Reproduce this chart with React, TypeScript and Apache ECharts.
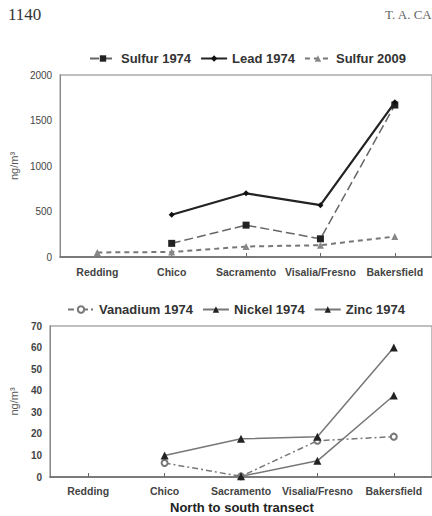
import React, { useEffect, useRef } from "react";
import * as echarts from "echarts";

const categories = ["Redding", "Chico", "Sacramento", "Visalia/Fresno", "Bakersfield"];
const sulfur1974 = [null, 150, 350, 200, 1670];
const lead1974 = [null, 465, 700, 570, 1700];
const sulfur2009 = [50, 55, 115, 130, 225];
const vanadium1974 = [null, 6.5, 0.3, 16.8, 18.7];
const nickel1974 = [null, null, 0.3, 7.5, 37.8];
const zinc1974 = [null, 10, 17.7, 18.7, 60];
const topTicks = { min: 0, max: 2000, interval: 500 };
const bottomTicks = { min: 0, max: 70, interval: 10 };

const FONT = "'Liberation Sans', Arial, sans-serif";

export default function App() {
  const ref = useRef<HTMLDivElement>(null);
  useEffect(() => {
    if (!ref.current) return;
    const chart = echarts.init(ref.current, null, { renderer: "svg" });
    const xAxisCommon = (gridIndex: number, margin: number) => ({
      type: "category" as const,
      gridIndex,
      data: categories,
      boundaryGap: true,
      axisLine: { show: true, lineStyle: { color: "#666", width: 1.5 } },
      axisTick: { show: true, inside: true, alignWithLabel: true, length: 4, lineStyle: { color: "#666" } },
      axisLabel: { fontFamily: FONT, fontSize: 10.5, fontWeight: "bold", color: "#444", margin, interval: 0 },
      splitLine: { show: false },
    });
    const yAxisCommon = (gridIndex: number, ticks: any, nameGap: number, bold: boolean) => ({
      type: "value" as const,
      gridIndex,
      min: ticks.min,
      max: ticks.max,
      interval: ticks.interval,
      name: "ng/m\u00B3",
      nameLocation: "middle" as const,
      nameGap,
      nameTextStyle: { fontFamily: FONT, fontSize: 11, color: "#555" },
      axisLine: { show: true, lineStyle: { color: "#888", width: 1 } },
      axisTick: { show: false },
      axisLabel: {
        fontFamily: FONT,
        fontSize: 10,
        color: "#444",
        fontWeight: bold ? "bold" : "normal",
        margin: 8,
        formatter: (v: number) => String(v),
      },
      splitLine: { show: false },
    });
    const legendText = { fontFamily: FONT, fontSize: 13, fontWeight: "bold", color: "#333" };
    chart.setOption({
      animation: false,
      backgroundColor: "#fff",
      graphic: [
        { type: "text", left: 8, top: 6, style: { text: "1140", font: "17px 'Liberation Serif', serif", fill: "#333" } },
        { type: "text", left: 385, top: 8, style: { text: "T. A. CA", font: "13px 'Liberation Serif', serif", fill: "#666" } },
        {
          type: "text",
          left: 170,
          top: 501,
          style: { text: "North to south transect", font: `bold 13px ${FONT}`, fill: "#222" },
        },
      ],
      legend: [
        {
          top: 47,
          left: 84,
          itemWidth: 26,
          itemHeight: 8,
          itemGap: 9,
          textStyle: legendText,
          data: ["Sulfur 1974", "Lead 1974", "Sulfur 2009"],
        },
        {
          top: 298,
          left: 62,
          itemWidth: 26,
          itemHeight: 8,
          itemGap: 9,
          textStyle: legendText,
          data: ["Vanadium 1974", "Nickel 1974", "Zinc 1974"],
        },
      ],
      grid: [
        { left: 58, top: 75, width: 375, height: 182, show: true, borderColor: "#aaa", borderWidth: 1.5, backgroundColor: "transparent" },
        { left: 50, top: 326, width: 385, height: 151, show: true, borderColor: "#aaa", borderWidth: 1.5, backgroundColor: "transparent" },
      ],
      xAxis: [xAxisCommon(0, 9), xAxisCommon(1, 8)],
      yAxis: [yAxisCommon(0, topTicks, 30, false), yAxisCommon(1, bottomTicks, 22, true)],
      series: [
        {
          name: "Sulfur 1974",
          type: "line",
          xAxisIndex: 0,
          yAxisIndex: 0,
          data: sulfur1974,
          symbol: "rect",
          symbolSize: 7,
          itemStyle: { color: "#222" },
          lineStyle: { color: "#666", width: 1.5, type: [9, 4] },
        },
        {
          name: "Lead 1974",
          type: "line",
          xAxisIndex: 0,
          yAxisIndex: 0,
          data: lead1974,
          symbol: "diamond",
          symbolSize: 6,
          itemStyle: { color: "#111" },
          lineStyle: { color: "#222", width: 2.2 },
        },
        {
          name: "Sulfur 2009",
          type: "line",
          xAxisIndex: 0,
          yAxisIndex: 0,
          data: sulfur2009,
          symbol: "triangle",
          symbolSize: 7,
          itemStyle: { color: "#888" },
          lineStyle: { color: "#777", width: 2, type: [5, 4] },
        },
        {
          name: "Vanadium 1974",
          type: "line",
          xAxisIndex: 1,
          yAxisIndex: 1,
          data: vanadium1974,
          symbol: "emptyCircle",
          symbolSize: 6,
          itemStyle: { color: "#777", borderColor: "#777" },
          lineStyle: { color: "#777", width: 1.5, type: [6, 3, 2, 3] },
        },
        {
          name: "Nickel 1974",
          type: "line",
          xAxisIndex: 1,
          yAxisIndex: 1,
          data: nickel1974,
          symbol: "triangle",
          symbolSize: 8,
          itemStyle: { color: "#222" },
          lineStyle: { color: "#777", width: 1.5 },
        },
        {
          name: "Zinc 1974",
          type: "line",
          xAxisIndex: 1,
          yAxisIndex: 1,
          data: zinc1974,
          symbol: "triangle",
          symbolSize: 8,
          itemStyle: { color: "#222" },
          lineStyle: { color: "#777", width: 1.5 },
        },
      ],
    });
    return () => chart.dispose();
  }, []);
  return (
    <div
      ref={ref}
      style={{ position: "fixed", left: 0, top: 0, width: 432, height: 516, background: "#fff" }}
    />
  );
}
